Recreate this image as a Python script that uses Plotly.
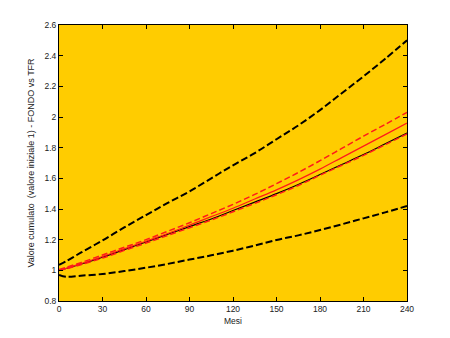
import plotly.graph_objects as go

months = [0, 5, 15, 30, 45, 60, 75, 90, 105, 120, 135, 150, 165, 180, 195, 210, 225, 240]

upper_black = [1.035, 1.06, 1.115, 1.195, 1.28, 1.36, 1.44, 1.515, 1.60, 1.685, 1.765, 1.855,
               1.945, 2.045, 2.155, 2.265, 2.38, 2.50]
lower_black = [0.97, 0.958, 0.965, 0.976, 0.995, 1.017, 1.042, 1.07, 1.098, 1.128, 1.162, 1.198,
               1.228, 1.263, 1.30, 1.339, 1.378, 1.42]
red_dash_up = [1.005, 1.02, 1.05, 1.10, 1.15, 1.20, 1.255, 1.31, 1.37, 1.43, 1.495, 1.565,
               1.638, 1.715, 1.795, 1.875, 1.952, 2.03]
red_solid = [1.0, 1.013, 1.043, 1.09, 1.14, 1.19, 1.24, 1.295, 1.35, 1.405, 1.465, 1.525,
             1.59, 1.66, 1.735, 1.81, 1.885, 1.96]
black_solid = [1.0, 1.012, 1.04, 1.085, 1.135, 1.185, 1.235, 1.285, 1.335, 1.39, 1.445, 1.50,
               1.56, 1.625, 1.69, 1.755, 1.825, 1.895]
red_dash_low = [0.998, 1.01, 1.037, 1.08, 1.13, 1.178, 1.228, 1.278, 1.328, 1.382, 1.437, 1.493,
                1.553, 1.62, 1.685, 1.75, 1.82, 1.89]

x_ticks = [0, 30, 60, 90, 120, 150, 180, 210, 240]
y_ticks = [0.8, 1, 1.2, 1.4, 1.6, 1.8, 2, 2.2, 2.4, 2.6]
y_labels = ["0.8", "1", "1.2", "1.4", "1.6", "1.8", "2", "2.2", "2.4", "2.6"]

fig = go.Figure()
fig.add_trace(go.Scatter(x=months, y=upper_black, mode="lines", line_shape="spline",
                         line=dict(color="black", width=2, dash="7px,3px")))
fig.add_trace(go.Scatter(x=months, y=lower_black, mode="lines", line_shape="spline",
                         line=dict(color="black", width=2, dash="7px,3px")))
fig.add_trace(go.Scatter(x=months, y=black_solid, mode="lines", line_shape="spline",
                         line=dict(color="black", width=1.2)))
fig.add_trace(go.Scatter(x=months, y=red_solid, mode="lines", line_shape="spline",
                         line=dict(color="#ff1a1a", width=1.2)))
fig.add_trace(go.Scatter(x=months, y=red_dash_up, mode="lines", line_shape="spline",
                         line=dict(color="#ff1a1a", width=1.5, dash="6px,3px")))
fig.add_trace(go.Scatter(x=months, y=red_dash_low, mode="lines", line_shape="spline",
                         line=dict(color="#ff1a1a", width=1.5, dash="6px,3px")))

axis_common = dict(showline=True, linecolor="black", linewidth=1, mirror="ticks",
                   ticks="inside", ticklen=4, tickcolor="black", showgrid=False,
                   zeroline=False, tickfont=dict(size=8.5, color="#222",
                                                 family="Liberation Sans, Arial, sans-serif"))

fig.update_layout(
    width=450, height=338,
    margin=dict(l=59, r=43, t=25, b=37),
    paper_bgcolor="white",
    plot_bgcolor="#ffcc00",
    showlegend=False,
    font=dict(family="Liberation Sans, Arial, sans-serif", size=8, color="#222"),
    xaxis=dict(range=[0, 240], tickvals=x_ticks,
               title=dict(text="Mesi", standoff=4, font=dict(size=8.5)), **axis_common),
    yaxis=dict(range=[0.8, 2.6], tickvals=y_ticks, ticktext=y_labels,
               title=dict(text="Valore cumulato  (valore iniziale 1) - FONDO vs TFR",
                          standoff=8, font=dict(size=9)), **axis_common),
)

fig.write_html("out.html")
